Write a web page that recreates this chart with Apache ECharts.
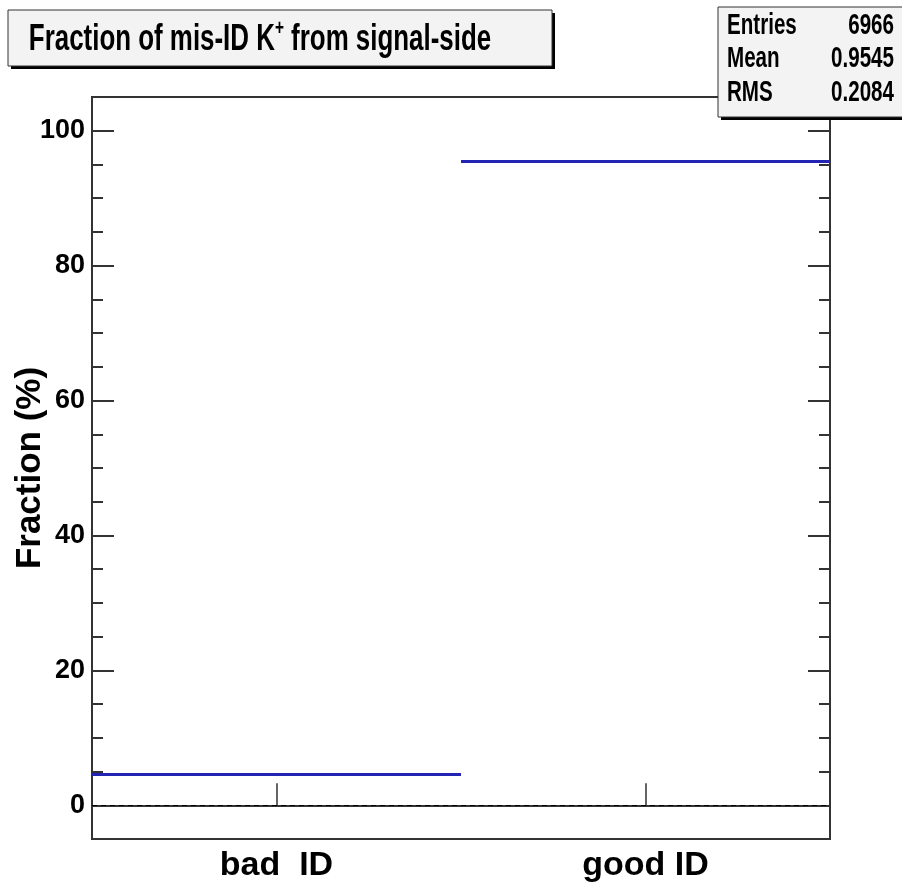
<!DOCTYPE html>
<html>
<head>
<meta charset="utf-8">
<script src="https://cdn.jsdelivr.net/npm/echarts@6/dist/echarts.min.js"></script>
<style>
html,body{margin:0;padding:0;background:#fff;}
#chart{width:902px;height:893px;}
</style>
</head>
<body>
<div id="chart"></div>
<script>
// ---- data ----
var categories = ['bad  ID', 'good ID'];
var fractions = [4.55, 95.45];
var majorTicks = [0, 20, 40, 60, 80, 100];
var minorTicks = [5, 10, 15, 25, 30, 35, 45, 50, 55, 65, 70, 75, 85, 90, 95];
var statLabels = ['Entries', 'Mean', 'RMS'];
var statValues = ['6966', '0.9545', '0.2084'];
var titleText = ['Fraction of mis-ID K', '+', ' from signal-side'];
var yName = 'Fraction (%)';

var FONT = "'Liberation Sans', Arial, Helvetica, sans-serif";
var frameColor = '#333';
var blue = '#2424b4';

var chart = echarts.init(document.getElementById('chart'), null, {renderer: 'canvas'});

var series = fractions.map(function (v, i) {
  var s = {
    type: 'line',
    xAxisIndex: 1,
    yAxisIndex: 0,
    data: [[i, v], [i + 1, v]],
    symbol: 'none',
    lineStyle: {color: blue, width: 3},
    silent: true,
    z: 3
  };
  if (i === 0) {
    s.markLine = {
      silent: true,
      symbol: ['none', 'none'],
      label: {show: false},
      lineStyle: {color: '#000', type: [5, 4], width: 1},
      data: [{yAxis: 0}]
    };
  }
  return s;
});

function yAx(pos, ticks, len, isMain) {
  return {
    type: 'value', min: -5, max: 105, position: pos,
    name: isMain ? yName : '',
    nameLocation: 'middle',
    nameGap: 44,
    nameMoveOverlap: false,
    nameTextStyle: {fontFamily: FONT, fontWeight: 'bold', fontSize: 35, color: '#000'},
    axisLine: {show: true, lineStyle: {color: frameColor, width: 2}},
    axisTick: {show: true, inside: true, length: len, customValues: ticks, lineStyle: {color: frameColor, width: 2}},
    axisLabel: isMain ? {show: true, customValues: majorTicks, fontFamily: FONT, fontWeight: 'bold', fontSize: 27, color: '#000', margin: 7} : {show: false},
    splitLine: {show: false}
  };
}

var option = {
  animation: false,
  backgroundColor: '#fff',
  textStyle: {fontFamily: FONT},
  grid: {left: 92, right: 72, top: 97, bottom: 54, outerBoundsMode: 'none', containLabel: false, show: true, borderColor: frameColor, borderWidth: 2, backgroundColor: 'transparent'},
  xAxis: [
    {
      type: 'category', data: categories, boundaryGap: true, position: 'bottom',
      axisLine: {show: true, lineStyle: {color: frameColor, width: 2}},
      axisTick: {show: true, inside: true, alignWithLabel: true, length: 22, lineStyle: {color: frameColor, width: 1.5}},
      axisLabel: {fontFamily: FONT, fontWeight: 'bold', fontSize: 34, color: '#000', margin: 10},
      splitLine: {show: false}
    },
    {type: 'value', min: 0, max: 2, show: false}
  ],
  yAxis: [
    yAx('left', majorTicks, 22, true),
    yAx('left', minorTicks, 11, false),
    yAx('right', majorTicks, 22, false),
    yAx('right', minorTicks, 11, false)
  ],
  series: series,
  graphic: [
    // title box
    {type: 'rect', shape: {x: 11, y: 13, width: 544, height: 56}, style: {fill: '#000'}, z: 10},
    {type: 'rect', shape: {x: 8, y: 10, width: 544, height: 56}, style: {fill: '#f3f3f3', stroke: frameColor, lineWidth: 1}, z: 11},
    {
      type: 'text', x: 260, y: 38, z: 12,
      scaleX: 0.7, originX: 0, originY: 0,
      style: {
        text: '{a|' + titleText[0] + '}{s|' + titleText[1] + '}{a|' + titleText[2] + '}',
        align: 'center', verticalAlign: 'middle',
        rich: {
          a: {fontFamily: FONT, fontWeight: 'bold', fontSize: 37, fill: '#000', lineHeight: 40, verticalAlign: 'bottom'},
          s: {fontFamily: FONT, fontWeight: 'bold', fontSize: 22, fill: '#000', lineHeight: 40, verticalAlign: 'top'}
        }
      }
    },
    // stats box
    {type: 'rect', shape: {x: 721, y: 10, width: 200, height: 110}, style: {fill: '#000'}, z: 10},
    {type: 'rect', shape: {x: 718, y: 7, width: 200, height: 110}, style: {fill: '#f3f3f3', stroke: frameColor, lineWidth: 1}, z: 11}
  ]
};

var rowY = [26, 59, 93];
statLabels.forEach(function (lab, i) {
  option.graphic.push({
    type: 'text', x: 727, y: rowY[i], z: 12, scaleX: 0.71,
    style: {text: lab, fontFamily: FONT, fontWeight: 'bold', fontSize: 29, fill: '#000', align: 'left', verticalAlign: 'middle'}
  });
  option.graphic.push({
    type: 'text', x: 894, y: rowY[i], z: 12, scaleX: 0.71,
    style: {text: statValues[i], fontFamily: FONT, fontWeight: 'bold', fontSize: 29, fill: '#000', align: 'right', verticalAlign: 'middle'}
  });
});

chart.setOption(option);
</script>
</body>
</html>
